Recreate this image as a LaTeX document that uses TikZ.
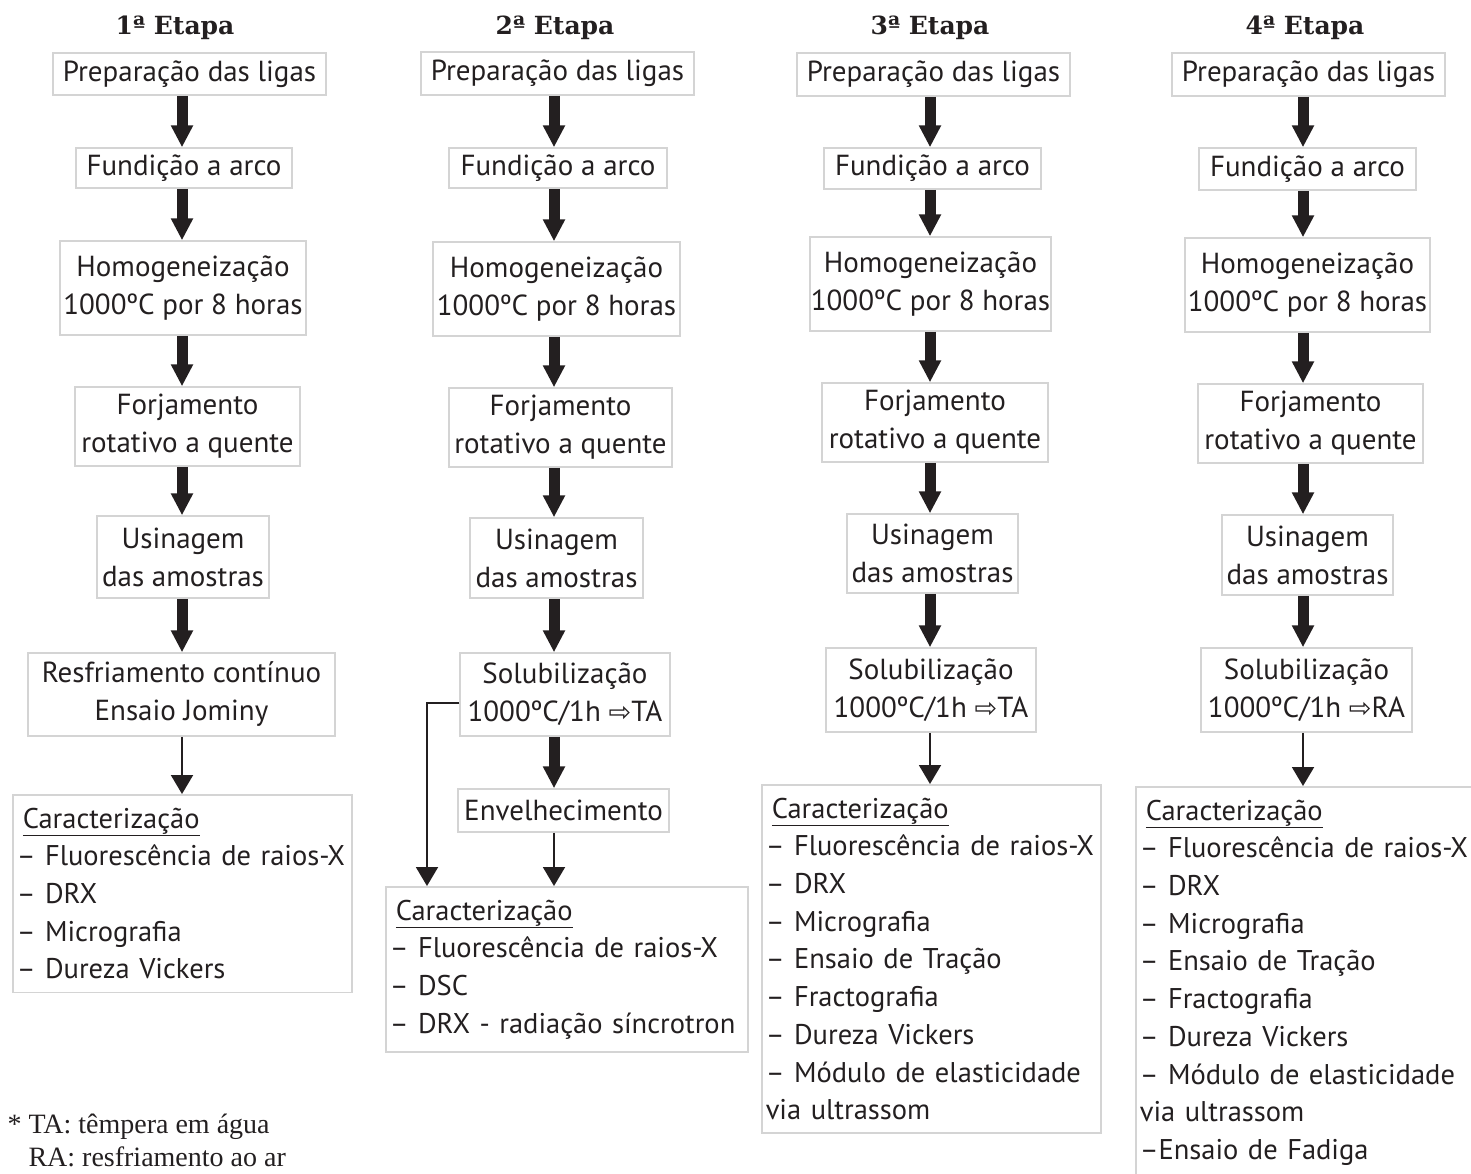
\documentclass[tikz,border=0pt]{standalone}
\usepackage{fontspec}
\setmainfont{PT Sans}
\newfontfamily\headfont{DejaVu Serif}
\newfontfamily\notefont{Liberation Serif}
\newfontfamily\symfont{DejaVu Sans}
\usetikzlibrary{arrows.meta}

\definecolor{ink}{RGB}{35,31,32}
\definecolor{boxgray}{RGB}{212,212,212}
\newcommand{\quench}{{\symfont\fontsize{27}{27}\selectfont ⇨}}
\hyphenpenalty=10000
\exhyphenpenalty=10000

\begin{document}
\begin{tikzpicture}[x=1pt, y=-1pt,
  stagebox/.style={draw=boxgray, line width=1.5pt, align=center, inner sep=0pt,
    text=ink, font=\fontsize{29}{38}\selectfont},
  wh/.style 2 args={minimum width=#1pt, minimum height=#2pt},
  charbox/.style={draw=boxgray, line width=1.5pt, anchor=north west, align=left,
    inner xsep=4pt, inner ysep=13pt, text width=#1pt, text=ink,
    font=\fontsize{28.5}{37.7}\selectfont},
  etapa/.style={text=ink, font=\headfont\bfseries\fontsize{25}{27}\selectfont},
  bigarrow/.style={draw=ink, line width=11pt, -{Triangle[width=21pt,length=22pt]}},
  thinarrow/.style={draw=ink, line width=2pt, -{Triangle[width=22pt,length=19pt]}}]

\useasboundingbox (0,0) rectangle (1471,1173);

% axes of the arrows, one per column
\coordinate (x1) at (182,0);
\coordinate (x2) at (554,0);
\coordinate (x3) at (930,0);
\coordinate (x4) at (1303,0);

% titles
\node[etapa] (t1) at (175,28) {1ª Etapa};
\node[etapa] (t2) at (555,28) {2ª Etapa};
\node[etapa] (t3) at (930,28) {3ª Etapa};
\node[etapa] (t4) at (1305,28) {4ª Etapa};

% 1a etapa
\node[stagebox, wh={273}{42}] (e1-1) at (189.5,74) {Preparação das ligas};
\node[stagebox, wh={216}{40}] (e1-2) at (184,168) {Fundição a arco};
\node[stagebox, wh={246}{94}] (e1-3) at (183,288) {Homogeneização\\1000ºC por 8 horas};
\node[stagebox, wh={225}{79}] (e1-4) at (187.5,426.5) {Forjamento\\rotativo a quente};
\node[stagebox, wh={172}{82}] (e1-5) at (183,557) {Usinagem\\das amostras};
\node[stagebox, wh={307}{83}] (e1-6) at (181.5,694.5) {Resfriamento contínuo\\Ensaio Jominy};
\node[charbox=331] (c1) at (12,794) {\hspace*{6pt}\underline{Caracterização}\\
  – Fluorescência de raios-X\\– DRX\\– Micrografia\\– Dureza Vickers};

% 2a etapa
\node[stagebox, wh={273}{43}] (e2-1) at (557.5,73.5) {Preparação das ligas};
\node[stagebox, wh={218}{40}] (e2-2) at (558,168) {Fundição a arco};
\node[stagebox, wh={247}{94}] (e2-3) at (556.5,289) {Homogeneização\\1000ºC por 8 horas};
\node[stagebox, wh={223}{79}] (e2-4) at (560.5,427.5) {Forjamento\\rotativo a quente};
\node[stagebox, wh={173}{80}] (e2-5) at (556.5,558) {Usinagem\\das amostras};
\node[stagebox, wh={210}{83}] (e2-6) at (565,694.5) {Solubilização\\1000ºC/1h \quench TA};
\node[stagebox, wh={211}{43}] (e2-7) at (563.5,810.5) {Envelhecimento};
\node[charbox=354] (c2) at (385,886) {\hspace*{6pt}\underline{Caracterização}\\
  – Fluorescência de raios-X\\– DSC\\– DRX - radiação síncrotron};

% 3a etapa
\node[stagebox, wh={273}{43}] (e3-1) at (933.5,74.5) {Preparação das ligas};
\node[stagebox, wh={217}{41}] (e3-2) at (932.5,168.5) {Fundição a arco};
\node[stagebox, wh={241}{94}] (e3-3) at (930.5,284) {Homogeneização\\1000ºC por 8 horas};
\node[stagebox, wh={226}{79}] (e3-4) at (935,422.5) {Forjamento\\rotativo a quente};
\node[stagebox, wh={171}{79}] (e3-5) at (932.5,553.5) {Usinagem\\das amostras};
\node[stagebox, wh={210}{84}] (e3-6) at (931,690) {Solubilização\\1000ºC/1h \quench TA};
\node[charbox=331] (c3) at (761,784) {\hspace*{6pt}\underline{Caracterização}\\
  – Fluorescência de raios-X\\– DRX\\– Micrografia\\– Ensaio de Tração\\
  – Fractografia\\– Dureza Vickers\\– Módulo de elasticidade\\via ultrassom};

% 4a etapa
\node[stagebox, wh={273}{43}] (e4-1) at (1308.5,74.5) {Preparação das ligas};
\node[stagebox, wh={217}{42}] (e4-2) at (1307.5,169) {Fundição a arco};
\node[stagebox, wh={245}{94}] (e4-3) at (1307.5,285) {Homogeneização\\1000ºC por 8 horas};
\node[stagebox, wh={225}{79}] (e4-4) at (1310.5,423.5) {Forjamento\\rotativo a quente};
\node[stagebox, wh={171}{80}] (e4-5) at (1307.5,555) {Usinagem\\das amostras};
\node[stagebox, wh={211}{84}] (e4-6) at (1306.5,690) {Solubilização\\1000ºC/1h \quench RA};
\node[charbox=334] (c4) at (1135,786) {\hspace*{6pt}\underline{Caracterização}\\
  – Fluorescência de raios-X\\– DRX\\– Micrografia\\– Ensaio de Tração\\
  – Fractografia\\– Dureza Vickers\\– Módulo de elasticidade\\via ultrassom\\
  –Ensaio de Fadiga};

% thick arrows down each column: e(c,i-1) -> e(c,i)
\foreach \c/\n in {1/6,2/7,3/6,4/6} {
  \foreach \i in {2,...,\n} {
    \pgfmathtruncatemacro{\ii}{\i - 1}
    \draw[bigarrow] (e\c-\ii.south -| x\c) -- (e\c-\i.north -| x\c);
  }
  % last step goes to the characterization box
  \draw[thinarrow] (e\c-\n.south -| x\c) -- (c\c.north -| x\c);
}

% solubilized samples of the 2a etapa are characterized too
\draw[thinarrow] ([yshift=-8pt]e2-6.west) -| ([xshift=42pt]c2.north west);

% legend
\node[anchor=north west, align=left, text=ink,
  font=\notefont\fontsize{28}{33}\selectfont] (leg) at (4,1110)
  {* TA: têmpera em água\\\phantom{* }RA: resfriamento ao ar};

\end{tikzpicture}
\end{document}
